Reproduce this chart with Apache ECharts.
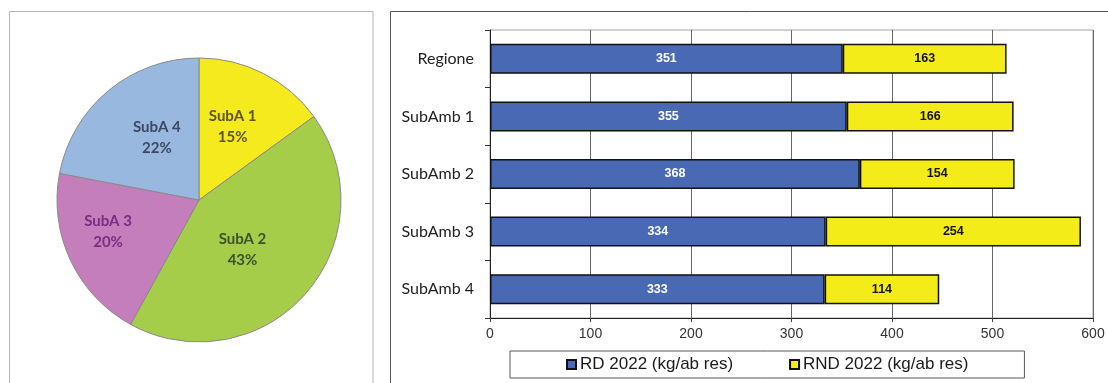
<!DOCTYPE html>
<html>
<head>
<meta charset="utf-8">
<script src="https://cdn.jsdelivr.net/npm/echarts@6/dist/echarts.min.js"></script>
<style>
  html, body { margin: 0; padding: 0; background: #ffffff; }
  #chart { width: 1108px; height: 383px; }
</style>
</head>
<body>
<div id="chart"></div>
<script>
// Share of each sub-area (pie)
const pieNames = ['SubA 1', 'SubA 2', 'SubA 3', 'SubA 4'];
const pieValues = [15, 43, 20, 22];
const pieColors = ['#F4EA1E', '#A6CD4A', '#C57EBC', '#99B8E0'];
const pieLabelColors = ['#5c5628', '#3e5030', '#7a2c82', '#3d4862'];
// small nudges for the in-slice labels
const pieLabelShift = [[0, -7], [-12, 1], [-24, 0], [5, -5]];

// Per-capita waste by area (stacked bars)
const areas = ['Regione', 'SubAmb 1', 'SubAmb 2', 'SubAmb 3', 'SubAmb 4'];
const rdValues = [351, 355, 368, 334, 333];
const rndValues = [163, 166, 154, 254, 114];
const seriesNames = ['RD 2022 (kg/ab res)', 'RND 2022 (kg/ab res)'];
const xTicks = [0, 100, 200, 300, 400, 500, 600];

const chart = echarts.init(document.getElementById('chart'), null, { renderer: 'canvas' });

const pieData = pieNames.map((n, i) => ({
  name: n,
  value: pieValues[i],
  itemStyle: { color: pieColors[i] },
  label: { color: pieLabelColors[i] }
}));

chart.setOption({
  backgroundColor: '#ffffff',
  animation: false,
  graphic: [
    { type: 'rect', shape: { x: 9.5, y: 11.5, width: 363.5, height: 390 },
      style: { fill: 'none', stroke: '#b4b4b4', lineWidth: 1 }, z: -1 },
    { type: 'rect', shape: { x: 390.5, y: 11.5, width: 740, height: 390 },
      style: { fill: 'none', stroke: '#555555', lineWidth: 1 }, z: -1 }
  ],
  legend: {
    data: seriesNames,
    left: 510,
    top: 351,
    padding: [5, 56, 5, 56],
    borderColor: '#555555',
    borderWidth: 1,
    itemWidth: 9,
    itemHeight: 9,
    itemGap: 56,
    icon: 'rect',
    textStyle: { fontFamily: 'Liberation Sans, Arial, sans-serif', fontSize: 17, color: '#1a1a1a', padding: [0, 0, 0, -1] }
  },
  grid: {
    left: 490,
    top: 30,
    width: 603,
    height: 288,
    show: true,
    borderColor: '#a0a0a0',
    borderWidth: 1,
    backgroundColor: '#ffffff'
  },
  xAxis: {
    type: 'value',
    min: 0,
    max: 600,
    interval: 100,
    axisLine: { show: true, lineStyle: { color: '#222', width: 1 } },
    axisTick: { show: true, length: 4, lineStyle: { color: '#444' } },
    splitLine: { show: true, lineStyle: { color: '#666666', width: 1 } },
    axisLabel: {
      fontFamily: 'Liberation Sans, Arial, sans-serif',
      fontSize: 14,
      color: '#333',
      margin: 9,
      formatter: v => (xTicks.includes(v) ? String(v) : '')
    }
  },
  yAxis: {
    type: 'category',
    data: areas,
    inverse: true,
    axisLine: { show: true, lineStyle: { color: '#222', width: 1 } },
    axisTick: { show: true, length: 5, lineStyle: { color: '#333' } },
    axisLabel: {
      fontFamily: 'Lato, "Open Sans", sans-serif',
      fontSize: 16,
      color: '#222',
      margin: 16
    }
  },
  series: [
    {
      type: 'pie',
      center: [199, 200],
      radius: [0, 142],
      startAngle: 90,
      clockwise: true,
      data: pieData,
      itemStyle: { borderColor: '#8a8a8a', borderWidth: 1 },
      label: {
        show: true,
        position: 'inner',
        formatter: '{b}\n{d}%',
        fontFamily: 'Lato, "Open Sans", sans-serif',
        fontWeight: 'bold',
        fontSize: 15,
        lineHeight: 21
      },
      labelLayout: p => ({ dx: pieLabelShift[p.dataIndex][0], dy: pieLabelShift[p.dataIndex][1] }),
      labelLine: { show: false },
      emphasis: { disabled: true }
    },
    {
      name: seriesNames[0],
      type: 'bar',
      stack: 'tot',
      barWidth: 30,
      data: rdValues,
      itemStyle: { color: '#4A69B4', borderColor: '#111', borderWidth: 1.5 },
      label: {
        show: true,
        position: 'inside',
        color: '#ffffff',
        fontFamily: 'Liberation Sans, Arial, sans-serif',
        fontWeight: 'bold',
        fontSize: 12.5
      }
    },
    {
      name: seriesNames[1],
      type: 'bar',
      stack: 'tot',
      barWidth: 30,
      data: rndValues,
      itemStyle: { color: '#F4EC18', borderColor: '#111', borderWidth: 1.5 },
      label: {
        show: true,
        position: 'inside',
        color: '#111111',
        fontFamily: 'Liberation Sans, Arial, sans-serif',
        fontWeight: 'bold',
        fontSize: 12.5
      }
    }
  ]
});
</script>
</body>
</html>
